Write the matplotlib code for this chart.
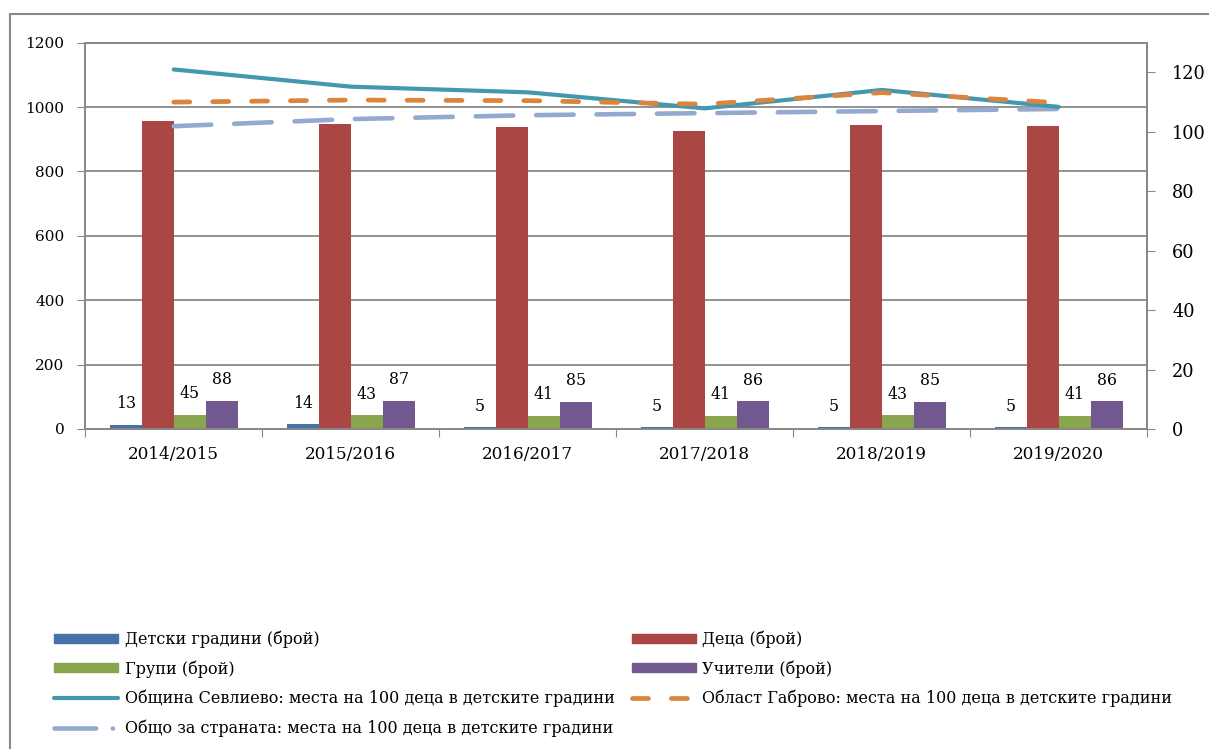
import matplotlib
matplotlib.use("Agg")
import matplotlib.pyplot as plt
from matplotlib.lines import Line2D
from matplotlib.patches import Patch, Rectangle
import numpy as np

plt.rcParams['font.family'] = ['DejaVu Serif']
plt.rcParams['lines.scale_dashes'] = False

years = ['2014/2015', '2015/2016', '2016/2017', '2017/2018', '2018/2019', '2019/2020']
gradini = [13, 14, 5, 5, 5, 5]            # детски градини
deca = [956, 947, 937, 926, 943, 940]     # деца
grupi = [45, 43, 41, 41, 43, 41]          # групи
uchiteli = [88, 87, 85, 86, 85, 86]       # учители
sevlievo = [121.0, 115.2, 113.3, 107.9, 114.1, 108.4]
gabrovo = [110.0, 110.7, 110.5, 109.3, 113.2, 109.8]
strana = [101.9, 104.3, 105.6, 106.3, 107.0, 107.7]

bar_names = ['Детски градини (брой)', 'Деца (брой)', 'Групи (брой)', 'Учители (брой)']
line_names = ['Община Севлиево: места на 100 деца в детските градини',
              'Област Габрово: места на 100 деца в детските градини',
              'Общо за страната: места на 100 деца в детските градини']

c_blue = '#4672a8'
c_red = '#aa4644'
c_green = '#89a54e'
c_purple = '#71588f'
c_teal = '#4198af'
c_orange = '#db843d'
c_lblue = '#93a9cf'
gray = '#898989'

fig = plt.figure(figsize=(12.09, 7.49), dpi=100)
ax = fig.add_axes([85.3 / 1209, 1 - 429 / 749, (1147.3 - 85.3) / 1209, (429 - 42.7) / 749])
ax2 = ax.twinx()

x = np.arange(len(years))
w = 0.18
series = [gradini, deca, grupi, uchiteli]
colors = [c_blue, c_red, c_green, c_purple]
offsets = [-1.5 * w, -0.5 * w, 0.5 * w, 1.5 * w]
for vals, col, off, name in zip(series, colors, offsets, bar_names):
    bars = ax.bar(x + off, vals, w, color=col, zorder=3, label=name)
    if vals is not deca:
        for b, v in zip(bars, vals):
            ax.annotate(str(v), (b.get_x() + b.get_width() / 2, v), xytext=(0, 9),
                        textcoords='offset points', ha='center', va='bottom', fontsize=11.3)

ax2.plot(x, sevlievo, color=c_teal, lw=3, solid_capstyle='round', zorder=4)
ax2.plot(x, gabrovo, color=c_orange, lw=3.4, dash_capstyle='round',
         dashes=(11.5, 16.5), zorder=5)
ax2.plot(x, strana, color=c_lblue, lw=3.3, dash_capstyle='round',
         dashes=(27, 16.5), zorder=3)

ax.set_ylim(0, 1200)
ax.set_yticks(range(0, 1201, 200))
ax.set_xlim(-0.5, len(years) - 0.5)
ax.set_xticks(np.arange(-0.5, len(years), 1.0))
ax.set_xticklabels([])
ax.set_xticks(x, minor=True)
ax.set_xticklabels(years, minor=True, fontsize=12.2)
ax.tick_params(axis='x', which='major', length=6, color=gray, direction='out')
ax.tick_params(axis='x', which='minor', length=0, pad=12)
ax.tick_params(axis='y', length=6, color=gray, labelsize=11, pad=9)
ax.grid(axis='y', color=gray, lw=1.3, zorder=0)
ax.set_axisbelow(True)

ax2.set_ylim(0, 130)
ax2.set_yticks(range(0, 121, 20))
ax2.tick_params(axis='y', length=6, color=gray, labelsize=12.8, pad=12)

for a in (ax, ax2):
    for s in a.spines.values():
        s.set_color(gray)
        s.set_linewidth(1.3)

# легенда
h_bars = [Patch(color=c) for c in colors]
h_teal = Line2D([], [], color=c_teal, lw=3, solid_capstyle='round')
h_orange = Line2D([], [], color=c_orange, lw=3.4, dash_capstyle='round', dashes=(11.5, 16.5))
h_lblue = Line2D([], [], color=c_lblue, lw=3.3, dash_capstyle='round', dashes=(30, 12, 0.1, 16))
handles = [h_bars[0], h_bars[2], h_teal, h_lblue, h_bars[1], h_bars[3], h_orange]
labels = [bar_names[0], bar_names[2], line_names[0], line_names[2],
          bar_names[1], bar_names[3], line_names[1]]
fig.legend(handles, labels, ncol=2, loc='upper left', bbox_to_anchor=(40 / 1209, 1 - 616 / 749),
           frameon=False, fontsize=11.5, handlelength=4.0, handleheight=0.5, handletextpad=0.4,
           labelspacing=0.76, columnspacing=1.1)

fig.patches.append(Rectangle((10 / 1209, -0.1), 1.2, 1.1 - 14 / 749, transform=fig.transFigure,
                             fill=False, edgecolor=gray, lw=1.5))

fig.savefig('out.png', dpi=100)
